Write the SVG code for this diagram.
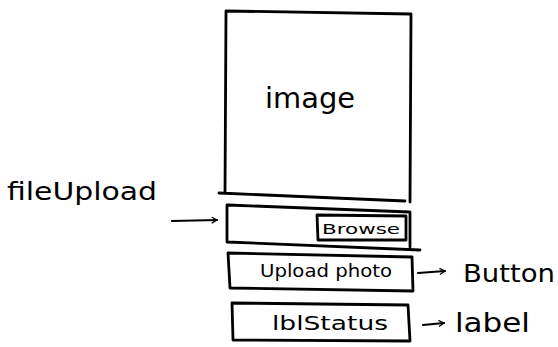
<svg xmlns="http://www.w3.org/2000/svg" width="558" height="347" viewBox="0 0 558 347">
  <defs>
    <marker id="arrowhead" viewBox="0 0 10 10" refX="9" refY="5" markerWidth="7" markerHeight="7" markerUnits="userSpaceOnUse" orient="auto">
      <polyline points="2,1 9,5 2,9" fill="none" stroke="#000" stroke-width="1.8" stroke-linecap="round" stroke-linejoin="round"/>
    </marker>
    <style>
      .box { fill: none; stroke: #000; stroke-width: 2.8; stroke-linejoin: round; stroke-linecap: round; }
      .wire { fill: none; stroke: #000; stroke-width: 2.2; stroke-linecap: round; marker-end: url(#arrowhead); }
      .hand { font-family: "DejaVu Sans", "Liberation Sans", sans-serif; fill: #000; }
    </style>
  </defs>

  <rect width="558" height="347" fill="#fff"/>

  <!-- picture area -->
  <g id="image">
    <path class="box" d="M226,11 L411,14 L410,202 M405,201 L219,193 M226,11 L225,193"/>
    <text class="hand" x="265" y="108" font-size="28" textLength="90" lengthAdjust="spacingAndGlyphs">image</text>
  </g>

  <!-- file upload control with its browse button -->
  <g id="fileUpload">
    <path class="box" d="M228,205 L410,212 L410,247 M227,205 L227,242 L420,250"/>
    <text class="hand" x="7" y="200" font-size="24" textLength="150" lengthAdjust="spacingAndGlyphs">fileUpload</text>
  </g>
  <g id="browse">
    <path class="box" d="M317,215 L406,216 L406,240 L318,240 Z"/>
    <text class="hand" x="322" y="234" font-size="14" textLength="78" lengthAdjust="spacingAndGlyphs">Browse</text>
  </g>

  <!-- upload button -->
  <g id="uploadPhoto">
    <path class="box" d="M228,253 L412,257 L413,291 L230,288 Z"/>
    <text class="hand" x="260" y="277" font-size="17" textLength="132" lengthAdjust="spacingAndGlyphs">Upload photo</text>
  </g>
  <g id="buttonNote">
    <text class="hand" x="463" y="282" font-size="24" textLength="92" lengthAdjust="spacingAndGlyphs">Button</text>
  </g>

  <!-- status label -->
  <g id="lblStatus">
    <path class="box" d="M232,303 L408,305 L410,341 L233,340 Z"/>
    <text class="hand" x="272" y="330" font-size="20" textLength="116" lengthAdjust="spacingAndGlyphs">lblStatus</text>
  </g>
  <g id="labelNote">
    <text class="hand" x="455" y="332" font-size="26" textLength="75" lengthAdjust="spacingAndGlyphs">label</text>
  </g>

  <!-- connectors -->
  <g id="connectors">
    <line class="wire" x1="172" y1="221" x2="217" y2="220"/>
    <line class="wire" x1="418" y1="273" x2="445" y2="271"/>
    <line class="wire" x1="423" y1="325" x2="444" y2="323"/>
  </g>
</svg>
